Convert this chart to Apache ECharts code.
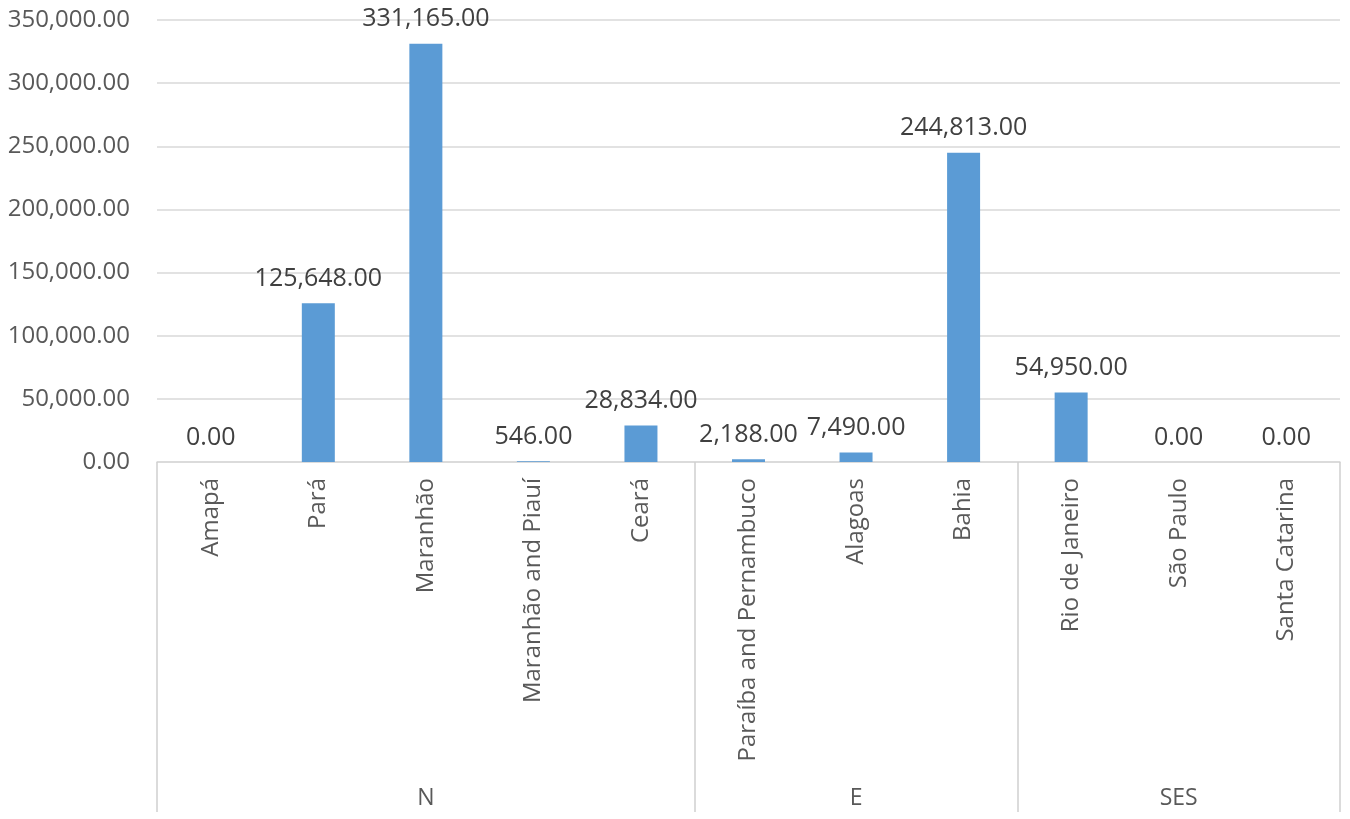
<!DOCTYPE html>
<html>
<head>
<meta charset="utf-8">
<script src="https://cdn.jsdelivr.net/npm/echarts@6/dist/echarts.min.js"></script>
<style>html,body{margin:0;padding:0;background:#fff;}#c{width:1350px;height:819px;}</style>
</head>
<body>
<div id="c"></div>
<script>
var categories = ['Amapá','Pará','Maranhão','Maranhão and Piauí','Ceará','Paraíba and Pernambuco','Alagoas','Bahia','Rio de Janeiro','São Paulo','Santa Catarina'];
var values = [0, 125648, 331165, 546, 28834, 2188, 7490, 244813, 54950, 0, 0];
var groupNames = ['N', 'E', 'SES'];
var groupSizes = [5, 3, 3];
var yTicks = [0, 50000, 100000, 150000, 200000, 250000, 300000, 350000];

var boundaries = [0];
var groupOf = [];
var middles = {};
var acc = 0;
groupSizes.forEach(function (n, g) {
  middles[acc + Math.floor(n / 2)] = true;
  for (var i = 0; i < n; i++) groupOf.push(groupNames[g]);
  acc += n;
  boundaries.push(acc);
});
function fmt(v) {
  return Number(v).toLocaleString('en-US', {minimumFractionDigits: 2, maximumFractionDigits: 2});
}
var FONT = 'Open Sans';
var chart = echarts.init(document.getElementById('c'));
chart.setOption({
  animation: false,
  backgroundColor: '#ffffff',
  grid: {left: 157, right: 10, top: 20, bottom: 357, containLabel: false},
  xAxis: [{
    type: 'category',
    data: categories,
    position: 'bottom',
    axisLine: {show: true, lineStyle: {color: '#d9d9d9', width: 1.5}},
    axisTick: {
      show: true,
      length: 350,
      interval: function (index) { return boundaries.indexOf(index) >= 0; },
      lineStyle: {color: '#d0d0d0', width: 1.5}
    },
    axisLabel: {
      rotate: 90, interval: 0, margin: 16,
      color: '#595959', fontFamily: FONT, fontSize: 24
    }
  }, {
    type: 'category',
    data: groupOf,
    position: 'bottom',
    offset: 322,
    axisLine: {show: false},
    axisTick: {show: false},
    axisLabel: {
      interval: function (index) { return !!middles[index]; },
      color: '#595959', fontFamily: FONT, fontSize: 23, margin: 3
    }
  }],
  yAxis: {
    type: 'value',
    min: 0, max: 350000, interval: 50000,
    axisLine: {show: false},
    axisTick: {show: false},
    splitLine: {lineStyle: {color: '#d9d9d9', width: 1.5}},
    axisLabel: {
      formatter: function (v) { return fmt(v); },
      color: '#595959', fontFamily: FONT, fontSize: 24, margin: 27
    }
  },
  series: [{
    type: 'bar',
    data: values,
    barWidth: 33,
    xAxisIndex: 0,
    itemStyle: {color: '#5B9BD5'},
    label: {
      show: true, position: 'top', distance: 12,
      formatter: function (p) { return fmt(p.value); },
      color: '#404040', fontFamily: FONT, fontSize: 25
    }
  }]
});
</script>
</body>
</html>
